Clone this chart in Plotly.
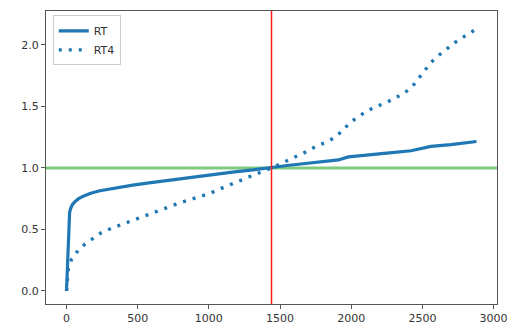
import plotly.graph_objects as go

# RT series (sorted ratio curve)
rt_x = [0, 4, 8, 13, 17, 22, 29, 40, 59, 85, 117, 170, 234, 350, 466, 580, 700, 820, 932, 1050, 1180, 1310, 1440,
        1550, 1630, 1750, 1850, 1910, 1980, 2096, 2250, 2420, 2500, 2560, 2700, 2840, 2880]
rt_y = [0.0, 0.12, 0.25, 0.47, 0.60, 0.64, 0.67, 0.70, 0.726, 0.75, 0.77, 0.795, 0.815, 0.84, 0.86, 0.878, 0.897, 0.915, 0.935, 0.952, 0.968, 0.984, 1.0,
        1.02, 1.03, 1.045, 1.055, 1.065, 1.09, 1.105, 1.12, 1.14, 1.16, 1.175, 1.19, 1.205, 1.215]

# RT4 series
rt4_x = [0, 13, 36, 82, 129, 187, 246, 316, 385, 455, 525, 595, 665, 735, 804, 874, 1000, 1100, 1200, 1320, 1440,
         1550, 1630, 1700, 1757, 1827, 1887, 1945, 1991, 2050, 2106, 2176, 2245, 2310, 2375, 2434, 2473, 2520,
         2562, 2620, 2673, 2729, 2795, 2880]
rt4_y = [0.0, 0.18, 0.26, 0.33, 0.38, 0.43, 0.475, 0.51, 0.54, 0.57, 0.60, 0.63, 0.66, 0.69, 0.72, 0.745, 0.79, 0.84, 0.89, 0.945, 1.0,
         1.06, 1.106, 1.14, 1.18, 1.21, 1.25, 1.31, 1.37, 1.42, 1.46, 1.50, 1.53, 1.57, 1.61, 1.67, 1.73, 1.80,
         1.86, 1.92, 1.97, 2.02, 2.07, 2.13]

x_ticks = [0, 500, 1000, 1500, 2000, 2500, 3000]
y_ticks = [0.0, 0.5, 1.0, 1.5, 2.0]
y_tick_labels = ["0.0", "0.5", "1.0", "1.5", "2.0"]
ref_y = 1.0
ref_x = 1440

blue = "#1f77b4"
fig = go.Figure()
fig.add_trace(go.Scatter(x=rt_x, y=rt_y, mode="lines", name="RT",
                         line=dict(color=blue, width=3.2)))
fig.add_trace(go.Scatter(x=rt4_x, y=rt4_y, mode="lines", name="RT4",
                         line=dict(color=blue, width=3.4, dash="3px,7px")))

fig.add_shape(type="line", xref="paper", yref="y", x0=0, x1=1, y0=ref_y, y1=ref_y,
              line=dict(color="rgba(0,150,0,0.5)", width=3), layer="below")
fig.add_shape(type="line", xref="x", yref="paper", x0=ref_x, x1=ref_x, y0=0, y1=1,
              line=dict(color="#ff1a1a", width=1.5))

axis_common = dict(showline=True, mirror=True, linecolor="#555", linewidth=1,
                   ticks="outside", ticklen=4, tickcolor="#555", showgrid=False,
                   zeroline=False, automargin=False,
                   tickfont=dict(family="DejaVu Sans", size=11, color="#333"))
fig.update_xaxes(range=[-144, 3024], tickvals=x_ticks, **axis_common)
fig.update_yaxes(range=[-0.106, 2.276], tickvals=y_ticks, ticktext=y_tick_labels, **axis_common)

fig.update_layout(
    width=510, height=326,
    margin=dict(l=46, r=13, t=11, b=22, autoexpand=False),
    paper_bgcolor="white", plot_bgcolor="white",
    legend=dict(x=0.015, y=0.985, xanchor="left", yanchor="top",
                bgcolor="rgba(255,255,255,0.8)", bordercolor="#ccc", borderwidth=1,
                font=dict(family="DejaVu Sans", size=11, color="#333"),
                tracegroupgap=0, itemwidth=30),
    showlegend=True,
)

fig.write_html("out.html", config={"displayModeBar": False},
               post_script="document.body.style.margin='0';document.body.style.overflow='hidden';")
